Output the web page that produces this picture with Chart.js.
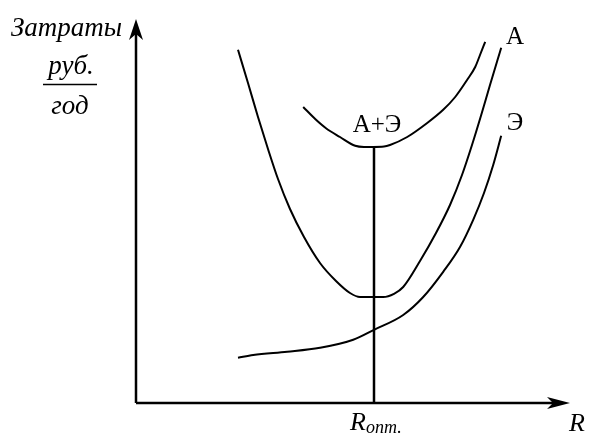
<!DOCTYPE html>
<html>
<head>
<meta charset="utf-8">
<script src="https://cdn.jsdelivr.net/npm/chart.js@4/dist/chart.umd.min.js"></script>
<style>
html,body{margin:0;padding:0;background:#fff;}
#c{display:block;}
</style>
</head>
<body>
<canvas id="c" width="600" height="447"></canvas>
<script>
// Values in chart units (R on x, cost on y)
const curveA_R    = [25.5,28.0,30.5,33.0,35.5,38.5,42.0,46.0,50.0,53.5,56.0,61.8,64.5,66.8,71.0,75.0,78.5,81.5,84.0,86.3,88.5,90.3,91.3];
const curveA_cost = [88.3,80.0,71.5,63.5,56.0,48.5,41.5,35.0,30.5,27.5,26.5,26.5,27.3,29.0,35.5,42.5,49.5,57.0,64.5,72.0,79.5,85.5,88.8];
const curveE_R    = [25.5,29.3,37.8,46.0,54.3,59.5,66.8,71.8,76.8,81.0,84.3,87.0,89.3,91.3];
const curveE_cost = [11.3,12.0,12.8,13.8,15.8,18.3,22.0,26.5,32.8,39.0,45.8,52.5,59.5,66.8];
const curveAE_R    = [41.8,44.8,47.5,51.0,54.8,57.0,59.3,62.0,63.5,67.8,72.8,76.8,79.8,82.8,84.8,86.0,87.3];
const curveAE_cost = [74.0,71.0,68.7,66.5,64.3,64.0,64.0,64.1,64.5,66.5,70.0,73.3,76.5,80.8,84.0,87.0,90.3];
const rOpt = 59.5;          // optimal R
const rOptCost = 64.0;      // minimum of A+Э
const axisRMax = 108.5;     // end of R axis (arrow tip)
const axisCostMax = 96.0;   // end of cost axis (arrow tip)
const labels = {A:'A', E:'Э', AE:'A+Э', yTitle:'Затраты', yNum:'руб.', yDen:'год', x:'R', rOpt:'R', rOptSub:'опт.'};

const zip = (xs, ys) => xs.map((x, i) => ({x: x, y: ys[i]}));

const curveStyle = {borderColor:'#000', borderWidth:2, pointRadius:0, showLine:true, fill:false, cubicInterpolationMode:'monotone'};

const overlay = {
  id:'overlay',
  afterDraw(chart){
    const c = chart.ctx, xs = chart.scales.x, ys = chart.scales.y;
    const X = v => xs.getPixelForValue(v), Y = v => ys.getPixelForValue(v);
    c.save();
    c.fillStyle = '#000'; c.strokeStyle = '#000';
    // arrow heads
    const ox = X(0), oy = Y(0), ty = Y(axisCostMax), tx = X(axisRMax);
    c.beginPath();
    c.moveTo(ox, ty); c.lineTo(ox-7, ty+21); c.lineTo(ox, ty+15); c.lineTo(ox+7, ty+21); c.closePath(); c.fill();
    c.beginPath();
    c.moveTo(tx, oy); c.lineTo(tx-23, oy-6); c.lineTo(tx-17, oy); c.lineTo(tx-23, oy+6); c.closePath(); c.fill();
    // texts
    c.textBaseline = 'alphabetic';
    c.textAlign = 'left';
    c.font = 'italic 27px "Liberation Serif"';
    c.fillText(labels.yTitle, 11, 36);
    c.textAlign = 'center';
    c.fillText(labels.yNum, 71, 74);
    c.fillText(labels.yDen, 70, 114);
    c.lineWidth = 1.5;
    c.beginPath(); c.moveTo(43, 84.5); c.lineTo(97, 84.5); c.stroke();
    c.font = '25px "Liberation Serif"';
    c.fillText(labels.AE, X(rOpt)+3, 132);
    c.fillText(labels.A, 515, 44);
    c.fillText(labels.E, 515, 130);
    c.font = 'italic 26px "Liberation Serif"';
    c.textAlign = 'left';
    c.fillText(labels.x, 569, 431);
    c.fillText(labels.rOpt, 350, 430);
    c.font = 'italic 18px "Liberation Serif"';
    c.fillText(labels.rOptSub, 366, 433);
    c.restore();
  }
};

new Chart(document.getElementById('c'), {
  type:'scatter',
  data:{
    datasets:[
      Object.assign({label:'A', data: zip(curveA_R, curveA_cost)}, curveStyle),
      Object.assign({label:'Э', data: zip(curveE_R, curveE_cost)}, curveStyle),
      Object.assign({label:'A+Э', data: zip(curveAE_R, curveAE_cost)}, curveStyle),
      {label:'Ropt', data: zip([rOpt, rOpt], [0, rOptCost]), borderColor:'#000', borderWidth:2.5, pointRadius:0, showLine:true, tension:0},
      {label:'axisY', data: zip([0, 0], [0, axisCostMax-3]), borderColor:'#000', borderWidth:2.5, pointRadius:0, showLine:true, tension:0},
      {label:'axisX', data: zip([0, axisRMax-4], [0, 0]), borderColor:'#000', borderWidth:2.5, pointRadius:0, showLine:true, tension:0}
    ]
  },
  options:{
    responsive:false,
    animation:false,
    layout:{padding:0},
    plugins:{legend:{display:false}, tooltip:{enabled:false}},
    scales:{
      x:{type:'linear', display:false, min:-34, max:116},
      y:{type:'linear', display:false, min:-11, max:100.75}
    }
  },
  plugins:[overlay]
});
</script>
</body>
</html>
